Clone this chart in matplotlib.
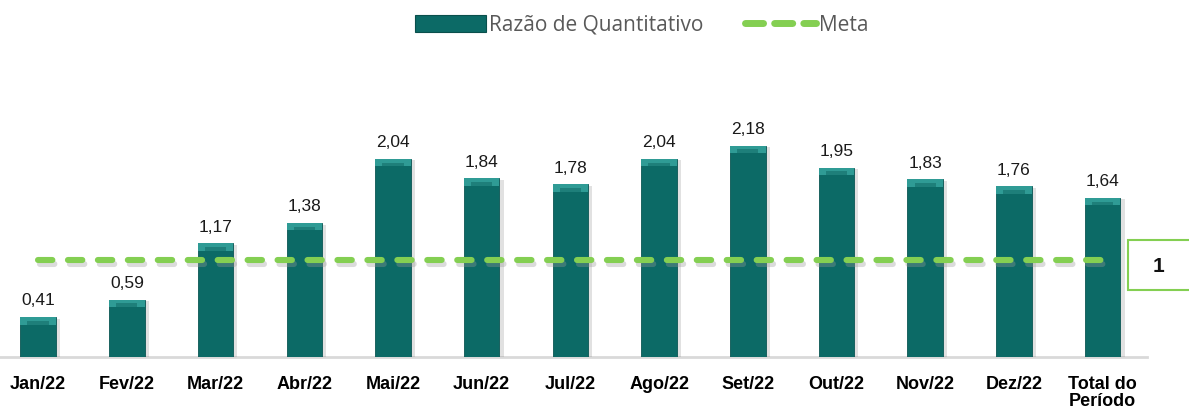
import matplotlib
matplotlib.use("Agg")
import matplotlib.pyplot as plt
from matplotlib import patheffects as pe
from matplotlib.patches import Rectangle
from matplotlib.lines import Line2D

categories = ["Jan/22", "Fev/22", "Mar/22", "Abr/22", "Mai/22", "Jun/22", "Jul/22",
              "Ago/22", "Set/22", "Out/22", "Nov/22", "Dez/22", "Total do\nPeríodo"]
razao = [0.41, 0.59, 1.17, 1.38, 2.04, 1.84, 1.78, 2.04, 2.18, 1.95, 1.83, 1.76, 1.64]
value_labels = ["0,41", "0,59", "1,17", "1,38", "2,04", "1,84", "1,78", "2,04", "2,18",
                "1,95", "1,83", "1,76", "1,64"]
meta = [1] * len(categories)
meta_label = "1"

BAR = "#0C6A66"
BAR_TOP = "#2F9B95"
GREEN = "#84CF52"

fig = plt.figure(figsize=(11.89, 4.07), dpi=100)
ax = fig.add_axes([0.0, 50 / 407, 1147 / 1189, 260 / 407])
x = list(range(len(categories)))

ax.bar(x, razao, width=0.40, color=BAR, ec="#0a5653", lw=0.6, zorder=3,
       path_effects=[pe.SimplePatchShadow(offset=(3, -1), shadow_rgbFace="#888888", alpha=0.25),
                     pe.Normal()])
# top bevel highlight
cap = 0.075
ax.bar(x, [cap] * len(x), bottom=[v - cap for v in razao], width=0.40,
       color=BAR_TOP, zorder=4)
ax.bar(x, [cap * 0.5] * len(x), bottom=[v - cap for v in razao], width=0.24,
       color="#1E7F7A", zorder=5)

for xi, v, lab in zip(x, razao, value_labels):
    ax.text(xi, v + 0.09, lab, ha="center", va="bottom", fontsize=12.5,
            family="Liberation Sans", color="#1a1a1a", zorder=6)

ax.plot(x, meta, color=GREEN, lw=4.4, ls=(0, (2.35, 2.55)),
        dash_capstyle="round", zorder=7,
        path_effects=[pe.SimpleLineShadow(offset=(1, -3), shadow_color="#999999", alpha=0.35),
                      pe.Normal()])

ax.set_xlim(-0.43, 12.5)
ax.set_ylim(0, 2.68)
ax.set_xticks(x)
ax.set_xticklabels(categories, fontsize=13, fontweight="bold", family="Liberation Sans",
                   linespacing=1.0, va="top")
ax.tick_params(axis="x", length=0, pad=14)
ax.set_yticks([])
for s in ["top", "right", "left"]:
    ax.spines[s].set_visible(False)
ax.spines["bottom"].set_color("#d9d9d9")
ax.spines["bottom"].set_linewidth(2)

# meta value box
box = Rectangle((1128 / 1189, 1 - 290 / 407), 70 / 1189, 50 / 407, transform=fig.transFigure,
                fc="white", ec=GREEN, lw=1.5, clip_on=False)
fig.add_artist(box)
fig.text(1158 / 1189, 1 - 266 / 407, meta_label, ha="center", va="center", fontsize=15,
         fontweight="bold", family="Liberation Sans", color="#111111")

# legend
handles = [Rectangle((0, 0), 1, 1, fc=BAR, ec="#0a4f4c", lw=0.8),
           Line2D([0], [0], color=GREEN, lw=5, ls=(0, (2.6, 1.6)), dash_capstyle="round")]
leg = fig.legend(handles, ["Razão de Quantitativo", "Meta"], loc="upper center",
                 bbox_to_anchor=(0.54, 1.01), ncol=2, frameon=False,
                 prop={"family": "Open Sans", "size": 15}, handlelength=3.4,
                 handleheight=0.9, handletextpad=0.15, columnspacing=2.0)
for t in leg.get_texts():
    t.set_color("#595959")

fig.savefig("out.png", dpi=100)
